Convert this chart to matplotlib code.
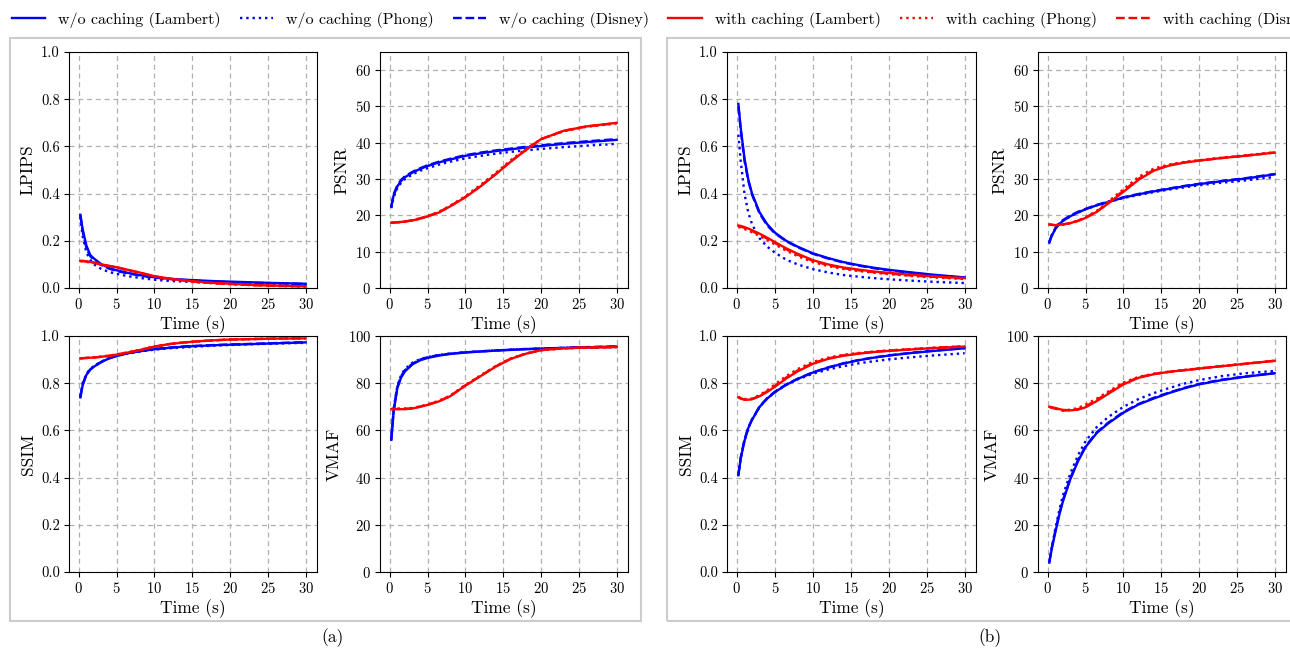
"""Convergence of LPIPS / PSNR / SSIM / VMAF over time, with and without caching,
for two scenes (a) and (b)."""
import matplotlib
matplotlib.use("Agg")
import matplotlib.pyplot as plt
from matplotlib.patches import Rectangle
from matplotlib.lines import Line2D

plt.rcParams["font.family"] = ["cmr10", "DejaVu Serif"]
plt.rcParams["mathtext.fontset"] = "cm"
plt.rcParams["axes.unicode_minus"] = False
plt.rcParams["axes.formatter.use_mathtext"] = True

# time samples (s)
T = [0.2, 0.5, 1, 1.5, 2, 3, 4, 5, 6.5, 8, 10, 12, 14, 16, 18, 20, 23, 26, 30]

LABELS = ["w/o caching (Lambert)", "w/o caching (Phong)", "w/o caching (Disney)",
          "with caching (Lambert)", "with caching (Phong)", "with caching (Disney)"]
COLORS = ["#0000ff", "#0000ff", "#0000ff", "#ff0000", "#ff0000", "#ff0000"]
STYLES = ["-", ":", "--", "-", ":", "--"]

# ---- scene (a) ----  (rows follow LABELS order)
A_LPIPS = [
    [0.31, 0.25, 0.18, 0.14, 0.125, 0.10, 0.085, 0.075, 0.064, 0.055, 0.045, 0.039, 0.035, 0.032, 0.029, 0.027, 0.024, 0.021, 0.018],
    [0.30, 0.22, 0.15, 0.12, 0.10, 0.08, 0.068, 0.06, 0.05, 0.043, 0.035, 0.03, 0.027, 0.024, 0.021, 0.018, 0.016, 0.014, 0.012],
    [0.31, 0.24, 0.17, 0.135, 0.12, 0.097, 0.082, 0.072, 0.062, 0.053, 0.044, 0.038, 0.034, 0.03, 0.027, 0.025, 0.022, 0.02, 0.017],
    [0.115, 0.115, 0.113, 0.11, 0.108, 0.10, 0.094, 0.088, 0.077, 0.066, 0.05, 0.04, 0.032, 0.026, 0.021, 0.018, 0.013, 0.010, 0.007],
    [0.113, 0.113, 0.111, 0.108, 0.106, 0.098, 0.092, 0.086, 0.075, 0.064, 0.048, 0.038, 0.03, 0.024, 0.02, 0.016, 0.012, 0.009, 0.006],
    [0.115, 0.114, 0.112, 0.109, 0.107, 0.099, 0.093, 0.087, 0.076, 0.065, 0.049, 0.039, 0.031, 0.025, 0.02, 0.017, 0.012, 0.009, 0.007],
]
A_PSNR = [
    [22.5, 25.5, 28, 29.5, 30.5, 31.8, 32.8, 33.6, 34.6, 35.4, 36.4, 37.1, 37.7, 38.2, 38.7, 39.1, 39.7, 40.2, 40.8],
    [22, 25, 27.5, 29, 30, 31.3, 32.3, 33, 34, 34.8, 35.7, 36.4, 37, 37.5, 37.9, 38.3, 38.8, 39.2, 39.7],
    [22.5, 25.8, 28.3, 29.8, 30.8, 32, 33, 33.8, 34.8, 35.6, 36.6, 37.3, 37.9, 38.4, 38.9, 39.3, 39.9, 40.4, 41],
    [18, 18, 18.1, 18.2, 18.3, 18.6, 19.1, 19.7, 20.8, 22.5, 25, 28, 31.3, 34.8, 38, 41, 43.3, 44.5, 45.5],
    [18, 18, 18.1, 18.2, 18.3, 18.6, 19.1, 19.8, 21, 22.7, 25.3, 28.4, 31.7, 35.2, 38.3, 41, 43.2, 44.4, 45.3],
    [18, 18, 18.1, 18.2, 18.3, 18.7, 19.2, 19.8, 20.9, 22.6, 25.1, 28.1, 31.4, 34.9, 38.1, 41, 43.3, 44.5, 45.4],
]
A_SSIM = [
    [0.74, 0.79, 0.835, 0.857, 0.87, 0.89, 0.905, 0.915, 0.927, 0.935, 0.944, 0.95, 0.955, 0.958, 0.961, 0.963, 0.966, 0.969, 0.973],
    [0.745, 0.80, 0.84, 0.86, 0.873, 0.892, 0.906, 0.916, 0.927, 0.934, 0.942, 0.948, 0.952, 0.956, 0.959, 0.962, 0.965, 0.968, 0.971],
    [0.74, 0.795, 0.838, 0.858, 0.872, 0.891, 0.906, 0.916, 0.928, 0.936, 0.945, 0.951, 0.956, 0.959, 0.962, 0.964, 0.967, 0.970, 0.974],
    [0.905, 0.906, 0.907, 0.908, 0.909, 0.912, 0.916, 0.921, 0.93, 0.94, 0.955, 0.966, 0.973, 0.978, 0.982, 0.985, 0.987, 0.989, 0.99],
    [0.905, 0.906, 0.907, 0.908, 0.909, 0.913, 0.917, 0.922, 0.931, 0.941, 0.956, 0.966, 0.973, 0.978, 0.982, 0.985, 0.987, 0.989, 0.99],
    [0.905, 0.906, 0.907, 0.908, 0.909, 0.912, 0.916, 0.921, 0.93, 0.94, 0.955, 0.966, 0.973, 0.978, 0.982, 0.985, 0.987, 0.989, 0.99],
]
A_VMAF = [
    [56, 68, 78, 82.5, 85, 88, 89.7, 90.7, 91.7, 92.4, 93, 93.4, 93.8, 94.1, 94.4, 94.6, 94.9, 95.2, 95.5],
    [56, 69, 79, 83.5, 86, 88.7, 90.2, 91.1, 92, 92.6, 93.1, 93.5, 93.9, 94.2, 94.5, 94.7, 95, 95.2, 95.4],
    [57, 68.5, 78.5, 83, 85.5, 88.3, 90, 91, 91.9, 92.5, 93.1, 93.5, 93.9, 94.2, 94.5, 94.7, 95, 95.3, 95.6],
    [69, 69, 69, 69, 69, 69.3, 70, 70.8, 72.3, 74.5, 79, 83, 87, 90.3, 92.5, 94, 94.8, 95.1, 95.3],
    [69.2, 69.2, 69.3, 69.2, 69.3, 69.5, 70.2, 71, 72.6, 74.8, 79.3, 83.3, 87.3, 90.5, 92.6, 94, 94.8, 95.1, 95.3],
    [69, 69, 69.1, 69, 69.1, 69.4, 70.1, 70.9, 72.4, 74.6, 79.1, 83.1, 87.1, 90.4, 92.5, 94, 94.8, 95.1, 95.3],
]

# ---- scene (b) ----
B_LPIPS = [
    [0.78, 0.68, 0.55, 0.46, 0.40, 0.32, 0.27, 0.235, 0.20, 0.175, 0.147, 0.127, 0.11, 0.097, 0.086, 0.077, 0.066, 0.056, 0.045],
    [0.65, 0.54, 0.40, 0.32, 0.27, 0.21, 0.175, 0.15, 0.12, 0.10, 0.08, 0.066, 0.055, 0.048, 0.042, 0.037, 0.031, 0.026, 0.021],
    [0.77, 0.67, 0.54, 0.455, 0.395, 0.315, 0.265, 0.232, 0.198, 0.173, 0.145, 0.125, 0.108, 0.095, 0.084, 0.075, 0.064, 0.054, 0.044],
    [0.265, 0.263, 0.258, 0.252, 0.245, 0.23, 0.213, 0.195, 0.168, 0.145, 0.118, 0.10, 0.087, 0.078, 0.07, 0.064, 0.056, 0.049, 0.042],
    [0.258, 0.256, 0.25, 0.243, 0.236, 0.22, 0.203, 0.185, 0.158, 0.135, 0.11, 0.093, 0.081, 0.072, 0.065, 0.059, 0.051, 0.045, 0.038],
    [0.262, 0.26, 0.255, 0.248, 0.241, 0.226, 0.209, 0.191, 0.164, 0.141, 0.115, 0.097, 0.084, 0.075, 0.067, 0.061, 0.053, 0.047, 0.04],
]
B_PSNR = [
    [12.5, 14.3, 16.3, 17.6, 18.5, 19.8, 20.8, 21.7, 22.8, 23.7, 24.9, 25.8, 26.6, 27.3, 28, 28.6, 29.4, 30.1, 31.3],
    [12.5, 14.3, 16.3, 17.6, 18.5, 19.8, 20.8, 21.7, 22.8, 23.7, 24.8, 25.6, 26.4, 27.1, 27.7, 28.3, 29, 29.6, 30.6],
    [12.7, 14.5, 16.5, 17.8, 18.7, 20, 21, 21.8, 22.9, 23.8, 25, 25.9, 26.7, 27.4, 28.1, 28.7, 29.5, 30.2, 31.4],
    [17.5, 17.4, 17.3, 17.4, 17.5, 17.9, 18.5, 19.3, 21, 23.3, 26.5, 29.8, 32.3, 33.7, 34.5, 35.1, 35.8, 36.4, 37.3],
    [17.5, 17.4, 17.3, 17.4, 17.5, 17.9, 18.6, 19.5, 21.3, 23.8, 27.2, 30.6, 32.9, 34, 34.7, 35.2, 35.9, 36.5, 37.4],
    [17.5, 17.4, 17.3, 17.4, 17.5, 17.9, 18.5, 19.4, 21.1, 23.5, 26.8, 30.1, 32.5, 33.8, 34.6, 35.1, 35.8, 36.4, 37.3],
]
B_SSIM = [
    [0.41, 0.48, 0.555, 0.61, 0.645, 0.70, 0.735, 0.762, 0.793, 0.818, 0.845, 0.866, 0.883, 0.897, 0.908, 0.917, 0.928, 0.937, 0.948],
    [0.41, 0.48, 0.555, 0.61, 0.645, 0.70, 0.735, 0.762, 0.793, 0.816, 0.84, 0.858, 0.872, 0.884, 0.893, 0.901, 0.91, 0.918, 0.927],
    [0.415, 0.485, 0.56, 0.612, 0.647, 0.702, 0.737, 0.764, 0.795, 0.819, 0.846, 0.867, 0.884, 0.898, 0.909, 0.918, 0.929, 0.938, 0.949],
    [0.74, 0.735, 0.73, 0.73, 0.732, 0.745, 0.763, 0.785, 0.82, 0.85, 0.882, 0.903, 0.916, 0.925, 0.932, 0.937, 0.943, 0.949, 0.955],
    [0.742, 0.737, 0.733, 0.733, 0.735, 0.75, 0.77, 0.795, 0.83, 0.86, 0.89, 0.908, 0.92, 0.928, 0.934, 0.939, 0.945, 0.95, 0.957],
    [0.741, 0.736, 0.731, 0.731, 0.733, 0.747, 0.766, 0.789, 0.824, 0.854, 0.885, 0.905, 0.918, 0.926, 0.933, 0.938, 0.944, 0.95, 0.956],
]
B_VMAF = [
    [4, 9.5, 17, 24, 30, 39.5, 47, 53, 59, 63, 67.5, 71, 73.5, 75.8, 77.8, 79.5, 81.3, 82.7, 84.2],
    [4, 10, 18.5, 26, 32.5, 42, 49.5, 55.5, 61.5, 65.7, 70, 73.3, 75.8, 77.9, 79.8, 81.3, 83, 84.2, 85.2],
    [4.5, 10, 17.5, 24.5, 30.5, 40, 47.5, 53.3, 59.3, 63.3, 67.8, 71.2, 73.8, 76, 78, 79.7, 81.5, 82.8, 84.3],
    [70, 69.8, 69.5, 69, 68.7, 68.5, 68.8, 69.8, 72.5, 75.5, 79.5, 82.3, 83.8, 84.8, 85.5, 86.2, 87.2, 88.2, 89.5],
    [70, 69.8, 69.3, 68.8, 68.5, 68.8, 69.5, 71, 73.5, 76.5, 80.3, 82.7, 84, 84.9, 85.6, 86.3, 87.3, 88.2, 89.5],
    [70, 69.6, 69.2, 68.8, 68.4, 68.6, 69, 70.2, 73, 76, 79.8, 82.5, 83.9, 84.8, 85.5, 86.2, 87.2, 88.2, 89.5],
]

METRICS = ["LPIPS", "PSNR", "SSIM", "VMAF"]
YLIMS = {"LPIPS": (0, 1), "PSNR": (0, 65), "SSIM": (0, 1), "VMAF": (0, 100)}
YTICKS = {"LPIPS": [0, 0.2, 0.4, 0.6, 0.8, 1.0], "PSNR": [0, 10, 20, 30, 40, 50, 60],
          "SSIM": [0, 0.2, 0.4, 0.6, 0.8, 1.0], "VMAF": [0, 20, 40, 60, 80, 100]}
SCENES = {"a": dict(zip(METRICS, [A_LPIPS, A_PSNR, A_SSIM, A_VMAF])),
          "b": dict(zip(METRICS, [B_LPIPS, B_PSNR, B_SSIM, B_VMAF]))}

W, H = 1290, 648
fig = plt.figure(figsize=(W / 100, H / 100), dpi=100)


def px_rect(x0, x1, y0, y1):
    """pixel box (top-left origin) -> figure fraction rect"""
    return [x0 / W, 1 - y1 / H, (x1 - x0) / W, (y1 - y0) / H]


# panel columns (x pixel ranges) and rows (y pixel ranges)
COLS = {"a": [(69, 317), (380, 628)], "b": [(727, 976), (1038, 1286)]}
ROWS = [(52, 288), (336, 572)]

for scene, cols in COLS.items():
    data = SCENES[scene]
    for i, metric in enumerate(METRICS):
        r, c = divmod(i, 2)
        ax = fig.add_axes(px_rect(cols[c][0], cols[c][1], ROWS[r][0], ROWS[r][1]))
        for vals, col, ls in zip(data[metric], COLORS, STYLES):
            ax.plot(T, vals, color=col, linestyle=ls, linewidth=1.7)
        ax.set_ylim(*YLIMS[metric])
        ax.set_yticks(YTICKS[metric])
        if metric in ("LPIPS", "SSIM"):
            ax.set_yticklabels([f"{v:.1f}" for v in YTICKS[metric]])
        ax.set_xlim(-1.3, 31.5)
        ax.set_xticks([0, 5, 10, 15, 20, 25, 30])
        ax.grid(True, linestyle=(0, (4, 3)), color="#b0b0b0", linewidth=0.9)
        ax.set_axisbelow(True)
        ax.set_ylabel(metric, fontsize=12.5, labelpad=4)
        ax.set_xlabel("Time (s)", fontsize=12.5, labelpad=2)
        ax.tick_params(labelsize=10.5, length=3.5, pad=3)

# light frames around the two groups
for x0, x1 in [(10, 641), (667, 1305)]:
    fig.add_artist(Rectangle((x0 / W, 1 - 621 / H), (x1 - x0) / W, (621 - 38) / H,
                             transform=fig.transFigure, fill=False,
                             edgecolor="#cccccc", linewidth=1.5))

fig.text(333 / W, 1 - 638 / H, "(a)", ha="center", va="center", fontsize=12.5)
fig.text(990 / W, 1 - 638 / H, "(b)", ha="center", va="center", fontsize=12.5)

handles = [Line2D([], [], color=c, linestyle=s, linewidth=1.7) for c, s in zip(COLORS, STYLES)]
fig.legend(handles, LABELS, loc="center left", bbox_to_anchor=(7 / W, 1 - 20 / H),
           ncol=6, frameon=False, fontsize=11.5, handlelength=2.1,
           handletextpad=0.8, columnspacing=1.2, borderaxespad=0, borderpad=0.3)

fig.savefig("out.png", dpi=100, facecolor="white")
